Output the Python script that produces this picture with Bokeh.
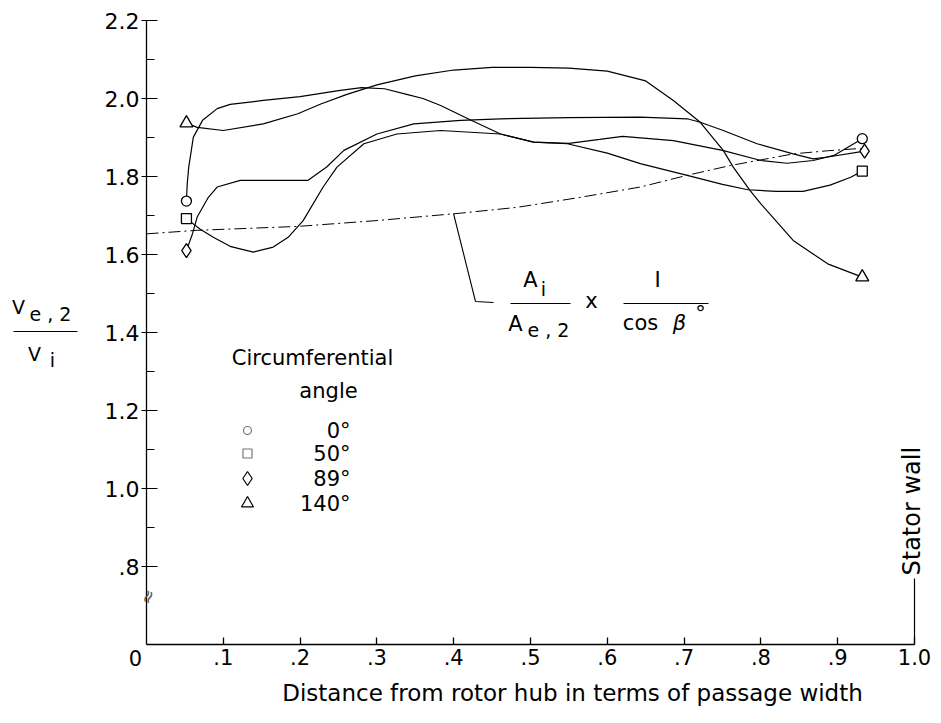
from bokeh.plotting import figure
from bokeh.models import Range1d, FixedTicker, Label, LinearAxis, CustomJSTickFormatter
from bokeh.embed import file_html
from bokeh.resources import INLINE
import math

# ---------------- data ----------------
# Circumferential angle 0 deg (circle)
x_c0 = [0.052, 0.053, 0.055, 0.061, 0.073, 0.092, 0.109, 0.152, 0.2, 0.25, 0.28, 0.31, 0.34, 0.36,
        0.383, 0.422, 0.461, 0.504, 0.55, 0.59, 0.62, 0.686, 0.75, 0.8, 0.834, 0.868, 0.895, 0.932]
y_c0 = [1.737, 1.78, 1.824, 1.901, 1.944, 1.974, 1.985, 1.995, 2.005, 2.02, 2.028, 2.025, 2.01, 2.0,
        1.982, 1.945, 1.909, 1.888, 1.885, 1.895, 1.903, 1.892, 1.867, 1.841, 1.834, 1.841, 1.854, 1.897]
# 50 deg (square)
x_c50 = [0.052, 0.07, 0.087, 0.11, 0.139, 0.165, 0.185, 0.204, 0.23, 0.248, 0.283, 0.326, 0.383,
         0.461, 0.504, 0.548, 0.6, 0.643, 0.704, 0.75, 0.783, 0.82, 0.855, 0.89, 0.917, 0.932]
y_c50 = [1.692, 1.665, 1.644, 1.62, 1.606, 1.619, 1.645, 1.687, 1.773, 1.824, 1.884, 1.909, 1.918,
         1.909, 1.888, 1.884, 1.86, 1.833, 1.803, 1.78, 1.766, 1.762, 1.762, 1.778, 1.798, 1.814]
# 89 deg (diamond)
x_c89 = [0.052, 0.06, 0.066, 0.08, 0.092, 0.122, 0.17, 0.21, 0.235, 0.257, 0.3, 0.348, 0.409,
         0.461, 0.55, 0.643, 0.704, 0.721, 0.751, 0.795, 0.842, 0.868, 0.887, 0.935]
y_c89 = [1.61, 1.654, 1.696, 1.745, 1.773, 1.79, 1.79, 1.79, 1.825, 1.867, 1.909, 1.935, 1.944,
         1.948, 1.951, 1.952, 1.948, 1.939, 1.918, 1.884, 1.858, 1.845, 1.85, 1.865]
# 140 deg (triangle)
x_c140 = [0.052, 0.066, 0.1, 0.152, 0.197, 0.227, 0.26, 0.3, 0.35, 0.4, 0.45, 0.5, 0.55, 0.6,
          0.65, 0.686, 0.721, 0.751, 0.764, 0.786, 0.8, 0.842, 0.887, 0.932]
y_c140 = [1.937, 1.926, 1.918, 1.935, 1.961, 1.986, 2.01, 2.035, 2.058, 2.073, 2.08, 2.08, 2.078, 2.07,
          2.045, 1.995, 1.939, 1.867, 1.824, 1.764, 1.73, 1.636, 1.576, 1.542]
# Area ratio curve  A_i/A_e,2 x 1/cos beta
x_area = [0.0, 0.066, 0.197, 0.3, 0.409, 0.483, 0.56, 0.643, 0.704, 0.76, 0.842, 0.887, 0.93]
y_area = [1.653, 1.662, 1.672, 1.687, 1.706, 1.721, 1.745, 1.773, 1.803, 1.828, 1.858, 1.866, 1.872]

legend_labels = ["0°", "50°", "89°", "140°"]
x_ticks = [0.1, 0.2, 0.3, 0.4, 0.5, 0.6, 0.7, 0.8, 0.9, 1.0]
x_tick_labels = [".1", ".2", ".3", ".4", ".5", ".6", ".7", ".8", ".9", "1.0"]
y_ticks = [0.8, 1.0, 1.2, 1.4, 1.6, 1.8, 2.0, 2.2]
y_tick_labels = [".8", "1.0", "1.2", "1.4", "1.6", "1.8", "2.0", "2.2"]
y_minor = [0.9, 1.1, 1.3, 1.5, 1.7, 1.9, 2.1]

# ---------------- layout helpers (pixel -> data) ----------------
PX_X = 768.0   # px per unit x
PX_Y = 390.0   # px per unit y
def X(px):
    return (px - 146) / PX_X
def Y(py):
    return 2.2 - (py - 20) / PX_Y

FONT = "DejaVu Sans"

p = figure(width=941, height=723, output_backend="svg", toolbar_location=None,
           x_range=Range1d(X(0), X(941)), y_range=Range1d(Y(723), Y(0)),
           x_axis_location=None, y_axis_location=None,
           min_border_left=0, min_border_right=0, min_border_top=0, min_border_bottom=0)
p.grid.visible = False
p.outline_line_color = None
p.background_fill_color = "white"
p.border_fill_color = "white"

fmt_code = """
const i = tks.findIndex(t => Math.abs(t - tick) < 1e-6);
return i >= 0 ? lbls[i] : '';
"""
xa = LinearAxis(fixed_location=0.6)
xa.ticker = FixedTicker(ticks=x_ticks)
xa.formatter = CustomJSTickFormatter(args=dict(tks=x_ticks, lbls=x_tick_labels), code=fmt_code)
xa.bounds = (0, 1.0)
xa.major_tick_in = 7
xa.major_tick_out = 0
xa.minor_tick_line_color = None
xa.axis_line_width = 1.3
xa.major_tick_line_width = 1.3
xa.major_label_text_font = FONT
xa.major_label_text_font_size = "21px"
xa.major_label_standoff = 4
xa.major_label_text_color = "black"
p.add_layout(xa, "below")

ya = LinearAxis(fixed_location=0.0)
ya.ticker = FixedTicker(ticks=y_ticks, minor_ticks=y_minor)
ya.formatter = CustomJSTickFormatter(args=dict(tks=y_ticks, lbls=y_tick_labels), code=fmt_code)
ya.bounds = (0.6, 2.2)
ya.major_tick_in = 11
ya.major_tick_out = 5
ya.minor_tick_in = 8
ya.minor_tick_out = 0
ya.axis_line_width = 1.3
ya.major_tick_line_width = 1.2
ya.minor_tick_line_width = 1.2
ya.major_label_text_font = FONT
ya.major_label_text_font_size = "22px"
ya.major_label_standoff = 2
ya.major_label_text_color = "black"
p.add_layout(ya, "left")

# ---------------- curves ----------------
LW = 1.2
p.line(x_area, y_area, line_color="black", line_width=1.0, line_dash="12 4 2 4")
p.line(x_c0, y_c0, line_color="black", line_width=LW)
p.line(x_c50, y_c50, line_color="black", line_width=LW)
p.line(x_c89, y_c89, line_color="black", line_width=LW)
p.line(x_c140, y_c140, line_color="black", line_width=LW)

mk = dict(line_color="black", line_width=1.3, fill_color="white")
p.scatter([x_c0[0], x_c0[-1]], [y_c0[0], y_c0[-1]], marker="circle", size=10, **mk)
p.scatter([x_c50[0], x_c50[-1]], [y_c50[0], y_c50[-1]], marker="square", size=10, **mk)
p.scatter([x_c89[0], x_c89[-1]], [y_c89[0], y_c89[-1]], marker="diamond", size=14, **mk)
p.scatter([x_c140[0], x_c140[-1]], [y_c140[0], y_c140[-1]], marker="triangle", size=13, **mk)

def lab(px, py, t, size="21px", align="center", style="normal", angle=0.0, color="black"):
    p.add_layout(Label(x=X(px), y=Y(py), text=t, text_align=align, text_baseline="middle",
                       text_font=FONT, text_font_size=size, text_font_style=style,
                       text_color=color, angle=angle))

# ---------------- legend ----------------
leg_py = [430, 453, 478, 503]
leg_markers = ["circle", "square", "diamond", "triangle"]
leg_sizes = [8, 9, 14, 12]
leg_colors = ["#777777", "#777777", "black", "black"]
for py, m, s, c, t in zip(leg_py, leg_markers, leg_sizes, leg_colors, legend_labels):
    p.scatter([X(247)], [Y(py)], marker=m, size=s, line_color=c, line_width=1.2, fill_color="white")
    lab(350, py, t, align="right")
lab(312, 357, "Circumferential")
lab(328, 390, "angle")

# ---------------- formula annotation ----------------
p.line([X(453), X(475), X(493)], [Y(213), Y(301), Y(302)], line_color="black", line_width=1.1)
p.segment(x0=[X(510), X(623), X(13)], y0=[Y(303), Y(303), Y(331)],
          x1=[X(570), X(708), X(77)], y1=[Y(303), Y(303), Y(331)],
          line_color="black", line_width=1.2)
lab(530, 279, "A")
lab(543, 288, "i", "19px")
lab(515, 323, "A")
lab(527, 329, "e , 2", "19px", "left")
lab(591, 300, "x")
lab(657, 279, "I")
lab(640, 322, "cos")
lab(679, 322, "β", style="italic")
lab(700, 313, "°")

# ---------------- y axis title (fraction) ----------------
lab(18, 306, "V", "19px")
lab(29, 313, "e , 2", "19px", "left")
lab(34, 353, "V", "19px")
lab(52, 359, "i", "19px")

# ---------------- x axis title, zero, stator wall, axis break ----------------
lab(572, 692, "Distance from rotor hub in terms of passage width", "23px")
lab(135, 657, "0")
p.segment(x0=[1.0], y0=[0.6], x1=[1.0], y1=[Y(578)], line_color="black", line_width=1.2)
p.add_layout(Label(x=X(911), y=Y(575), text="Stator wall", angle=math.pi / 2, text_align="left",
                   text_baseline="middle", text_font=FONT, text_font_size="24px",
                   text_color="black"))
lab(147, 596, "≈", "18px", angle=1.2, color="#555555")

open("out.html", "w").write(file_html(p, INLINE))
